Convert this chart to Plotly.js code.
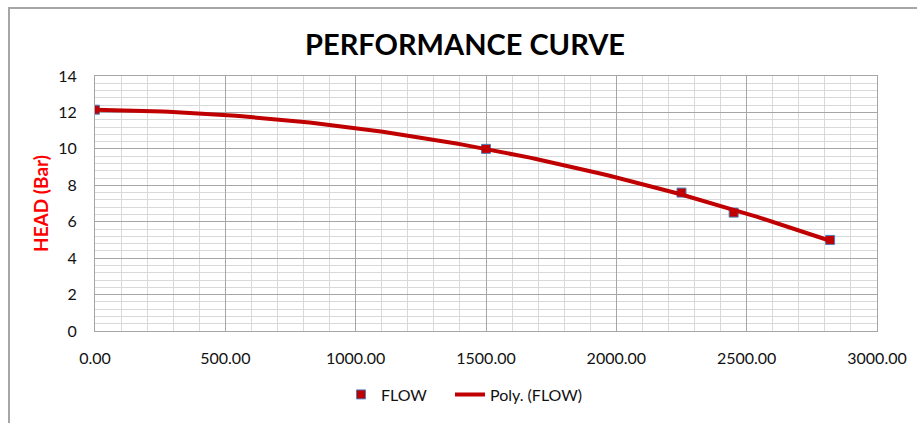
<!DOCTYPE html>
<html>
<head>
<meta charset="utf-8">
<script src="https://cdn.plot.ly/plotly-3.0.1.min.js"></script>
<style>
  html, body { margin: 0; padding: 0; background: #fff; }
  #wrap { position: relative; width: 917px; height: 423px; overflow: hidden; }
  #chart { position: absolute; left: 0; top: 0; width: 917px; height: 423px; }
  #frame { position: absolute; left: 8px; top: 7px; width: 1000px; height: 500px;
           border-left: 2px solid #a6a6a6; border-top: 2px solid #a6a6a6; pointer-events: none; }
</style>
</head>
<body>
<div id="wrap">
  <div id="chart"></div>
  <div id="frame"></div>
</div>
<script>
// Data
const flow = [0, 1500, 2250, 2450, 2820];
const head = [12.15, 10.0, 7.6, 6.5, 5.0];
const xTickVals = [0, 500, 1000, 1500, 2000, 2500, 3000];
const yTickVals = [0, 2, 4, 6, 8, 10, 12, 14];

// Excel-style 2nd-order polynomial trendline (least squares fit of the FLOW series)
function polyFit2(xs, ys) {
  let n = xs.length, sx = 0, sx2 = 0, sx3 = 0, sx4 = 0, sy = 0, sxy = 0, sx2y = 0;
  for (let i = 0; i < n; i++) {
    const x = xs[i], y = ys[i];
    sx += x; sx2 += x * x; sx3 += x * x * x; sx4 += x * x * x * x;
    sy += y; sxy += x * y; sx2y += x * x * y;
  }
  const M = [[n, sx, sx2, sy], [sx, sx2, sx3, sxy], [sx2, sx3, sx4, sx2y]];
  for (let c = 0; c < 3; c++) {
    let p = c;
    for (let r = c + 1; r < 3; r++) if (Math.abs(M[r][c]) > Math.abs(M[p][c])) p = r;
    [M[c], M[p]] = [M[p], M[c]];
    for (let r = 0; r < 3; r++) {
      if (r === c) continue;
      const f = M[r][c] / M[c][c];
      for (let k = c; k < 4; k++) M[r][k] -= f * M[c][k];
    }
  }
  return [M[0][3] / M[0][0], M[1][3] / M[1][1], M[2][3] / M[2][2]];
}
const coef = polyFit2(flow, head);
const xMin = Math.min(...flow), xMax = Math.max(...flow);
const trendX = [], trendY = [];
for (let i = 0; i <= 120; i++) {
  const x = xMin + (xMax - xMin) * i / 120;
  trendX.push(x);
  trendY.push(coef[0] + coef[1] * x + coef[2] * x * x);
}

const FONT = 'Lato, "Open Sans", sans-serif';

const traces = [
  {
    x: flow, y: head, type: 'scatter', mode: 'markers', name: 'FLOW', legend: 'legend',
    marker: { symbol: 'square', size: 9, color: '#C00000', line: { color: '#4F81BD', width: 1 } }
  },
  {
    x: trendX, y: trendY, type: 'scatter', mode: 'lines', name: 'Poly. (FLOW)', legend: 'legend2',
    line: { color: '#C00000', width: 4 }, hoverinfo: 'skip'
  }
];

const legendCommon = {
  orientation: 'h', xanchor: 'left', y: -0.249, yanchor: 'middle',
  font: { family: FONT, size: 16, color: '#111111' }, bgcolor: 'rgba(0,0,0,0)',
  itemwidth: 30
};

const layout = {
  width: 917, height: 423,
  margin: { l: 95, r: 40, t: 76, b: 90, pad: 0 },
  paper_bgcolor: '#ffffff', plot_bgcolor: '#ffffff',
  font: { family: FONT, size: 16, color: '#111111' },
  title: {
    text: 'PERFORMANCE CURVE',
    font: { family: FONT, size: 29, color: '#000000', weight: 'bold' },
    x: 465 / 917, xanchor: 'center', xref: 'container',
    y: 1 - 45 / 423, yanchor: 'middle', yref: 'container'
  },
  xaxis: {
    range: [0, 3000], tickvals: xTickVals, tickformat: '.2f',
    showgrid: true, gridcolor: '#a6a6a6', gridwidth: 1,
    minor: { dtick: 100, showgrid: true, gridcolor: '#d9d9d9', gridwidth: 1 },
    showline: true, linecolor: '#a6a6a6', linewidth: 1, mirror: true,
    zeroline: false, ticks: '', ticklabelstandoff: 13,
    tickfont: { family: FONT, size: 16, color: '#111111' }
  },
  yaxis: {
    range: [0, 14], tickvals: yTickVals,
    showgrid: true, gridcolor: '#a6a6a6', gridwidth: 1,
    minor: { dtick: 0.4, showgrid: true, gridcolor: '#d9d9d9', gridwidth: 1 },
    showline: true, linecolor: '#a6a6a6', linewidth: 1, mirror: true,
    zeroline: false, ticks: '', ticklabelstandoff: 14,
    tickfont: { family: FONT, size: 16, color: '#111111' },
    title: { text: 'HEAD (Bar)', standoff: 4, font: { family: FONT, size: 19, color: '#FF0000', weight: 'bold' } }
  },
  showlegend: true,
  legend: Object.assign({}, legendCommon, { x: (341 - 95) / 782 }),
  legend2: Object.assign({}, legendCommon, { x: (450 - 95) / 782 })
};

Plotly.newPlot('chart', traces, layout, { staticPlot: true, displayModeBar: false });
</script>
</body>
</html>
